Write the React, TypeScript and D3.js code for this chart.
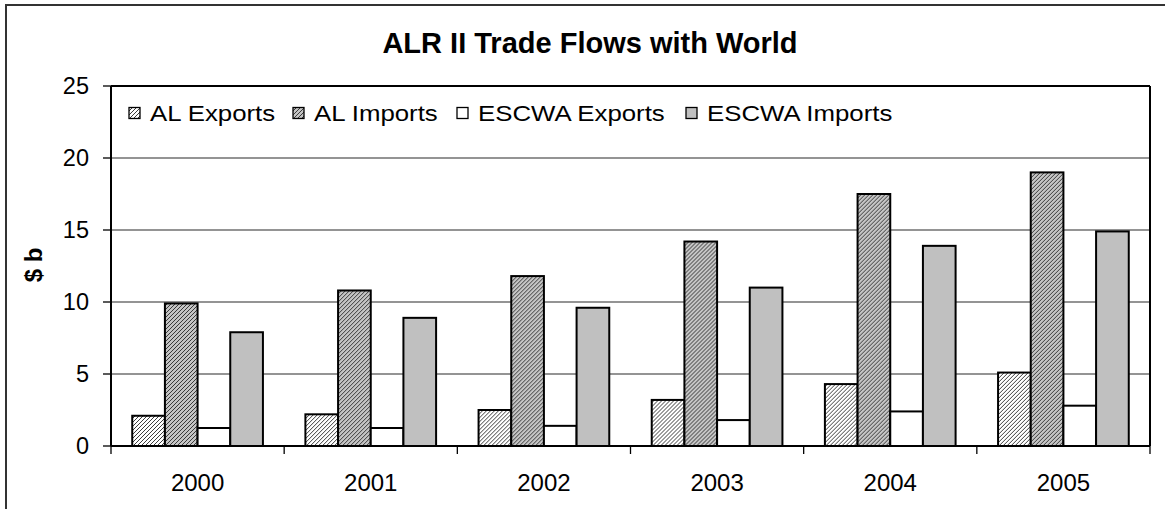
import React from "react";
import * as d3 from "d3";

const years = ["2000", "2001", "2002", "2003", "2004", "2005"];
const seriesNames = ["AL Exports", "AL Imports", "ESCWA Exports", "ESCWA Imports"];
const alExports = [2.1, 2.2, 2.5, 3.2, 4.3, 5.1];
const alImports = [9.9, 10.8, 11.8, 14.2, 17.5, 19.0];
const escwaExports = [1.25, 1.25, 1.4, 1.8, 2.4, 2.8];
const escwaImports = [7.9, 8.9, 9.6, 11.0, 13.9, 14.9];
const yTicks = [0, 5, 10, 15, 20, 25];

const seriesValues = [alExports, alImports, escwaExports, escwaImports];
const fills = ["url(#hatchLight)", "url(#hatchDark)", "#ffffff", "#c0c0c0"];

const W = 1165;
const H = 509;
const plot = { left: 111, right: 1150, top: 86, bottom: 446 };
const FONT = "'Liberation Sans', Arial, sans-serif";

export default function App() {
  const x = d3.scaleBand<string>().domain(years).range([plot.left, plot.right]).padding(0);
  const inner = d3
    .scaleBand<string>()
    .domain(seriesNames)
    .range([0, x.bandwidth()])
    .paddingInner(0)
    .paddingOuter(0.65);
  const y = d3.scaleLinear().domain([0, 25]).range([plot.bottom, plot.top]);

  const legendX = [129, 293, 457, 686];

  return (
    <svg
      width={W}
      height={H}
      style={{ position: "absolute", left: 0, top: 0, background: "#fff" }}
      fontFamily={FONT}
    >
      <defs>
        <pattern id="hatchLight" patternUnits="userSpaceOnUse" width="4" height="4">
          <rect width="4" height="4" fill="#ffffff" />
          <path d="M-1,1 l2,-2 M0,4 l4,-4 M3,5 l2,-2" stroke="#1a1a1a" strokeWidth="0.85" />
        </pattern>
        <pattern id="hatchDark" patternUnits="userSpaceOnUse" width="4" height="4">
          <rect width="4" height="4" fill="#c4c4c4" />
          <path d="M-1,1 l2,-2 M0,4 l4,-4 M3,5 l2,-2" stroke="#2a2a2a" strokeWidth="0.9" />
        </pattern>
      </defs>
      <rect x={0} y={0} width={W} height={H} fill="#fff" />
      {/* outer chart border */}
      <rect x={6} y={5} width={W + 20} height={H + 20} fill="none" stroke="#333" strokeWidth={2} />

      {/* title */}
      <text x={590} y={53} textAnchor="middle" fontWeight="bold" fontSize={29} fill="#000">
        ALR II Trade Flows with World
      </text>

      {/* gridlines */}
      {yTicks.map((t) => (
        <line
          key={"g" + t}
          x1={plot.left}
          x2={plot.right}
          y1={y(t)}
          y2={y(t)}
          stroke="#707070"
          strokeWidth={1.3}
        />
      ))}

      {/* bars */}
      {years.map((yr, i) => (
        <g key={yr} transform={`translate(${x(yr)},0)`}>
          {seriesNames.map((s, j) => (
            <rect
              key={s}
              x={inner(s)}
              y={y(seriesValues[j][i])}
              width={inner.bandwidth()}
              height={y(0) - y(seriesValues[j][i])}
              fill={fills[j]}
              stroke="#000"
              strokeWidth={2}
            />
          ))}
        </g>
      ))}

      {/* plot border */}
      <line x1={plot.left} x2={plot.right} y1={plot.top} y2={plot.top} stroke="#000" strokeWidth={2} />
      <line x1={plot.right} x2={plot.right} y1={plot.top} y2={plot.bottom} stroke="#000" strokeWidth={2} />
      <line x1={plot.left} x2={plot.left} y1={plot.top} y2={plot.bottom} stroke="#000" strokeWidth={2} />
      <line x1={plot.left} x2={plot.right} y1={plot.bottom} y2={plot.bottom} stroke="#000" strokeWidth={2} />

      {/* y axis ticks and labels */}
      {yTicks.map((t) => (
        <g key={"y" + t}>
          <line x1={plot.left - 8} x2={plot.left} y1={y(t)} y2={y(t)} stroke="#000" strokeWidth={1.3} />
          <text x={89} y={y(t)} dy="0.36em" textAnchor="end" fontSize={23.5} fill="#000">
            {t}
          </text>
        </g>
      ))}

      {/* x axis ticks and labels */}
      {years.concat(["end"]).map((yr, i) => {
        const xx = i < years.length ? (x(yr) as number) : plot.right;
        return (
          <line key={"xt" + i} x1={xx} x2={xx} y1={plot.bottom} y2={plot.bottom + 8} stroke="#000" strokeWidth={1.3} />
        );
      })}
      {years.map((yr) => (
        <text
          key={"xl" + yr}
          x={(x(yr) as number) + x.bandwidth() / 2}
          y={490.5}
          textAnchor="middle"
          fontSize={24}
          fill="#000"
        >
          {yr}
        </text>
      ))}

      {/* y axis title */}
      <text
        transform={`translate(42,265) rotate(-90)`}
        textAnchor="middle"
        fontWeight="bold"
        fontSize={24}
        fill="#000"
      >
        $ b
      </text>

      {/* legend */}
      {seriesNames.map((s, j) => (
        <g key={"lg" + s}>
          <rect x={legendX[j]} y={107.5} width={11} height={11} fill={fills[j]} stroke="#000" strokeWidth={1.3} />
          <text
            transform={`translate(${legendX[j] + 21},113) scale(1.2,1)`}
            dy="0.36em"
            fontSize={21.5}
            fill="#000"
          >
            {s}
          </text>
        </g>
      ))}
    </svg>
  );
}
